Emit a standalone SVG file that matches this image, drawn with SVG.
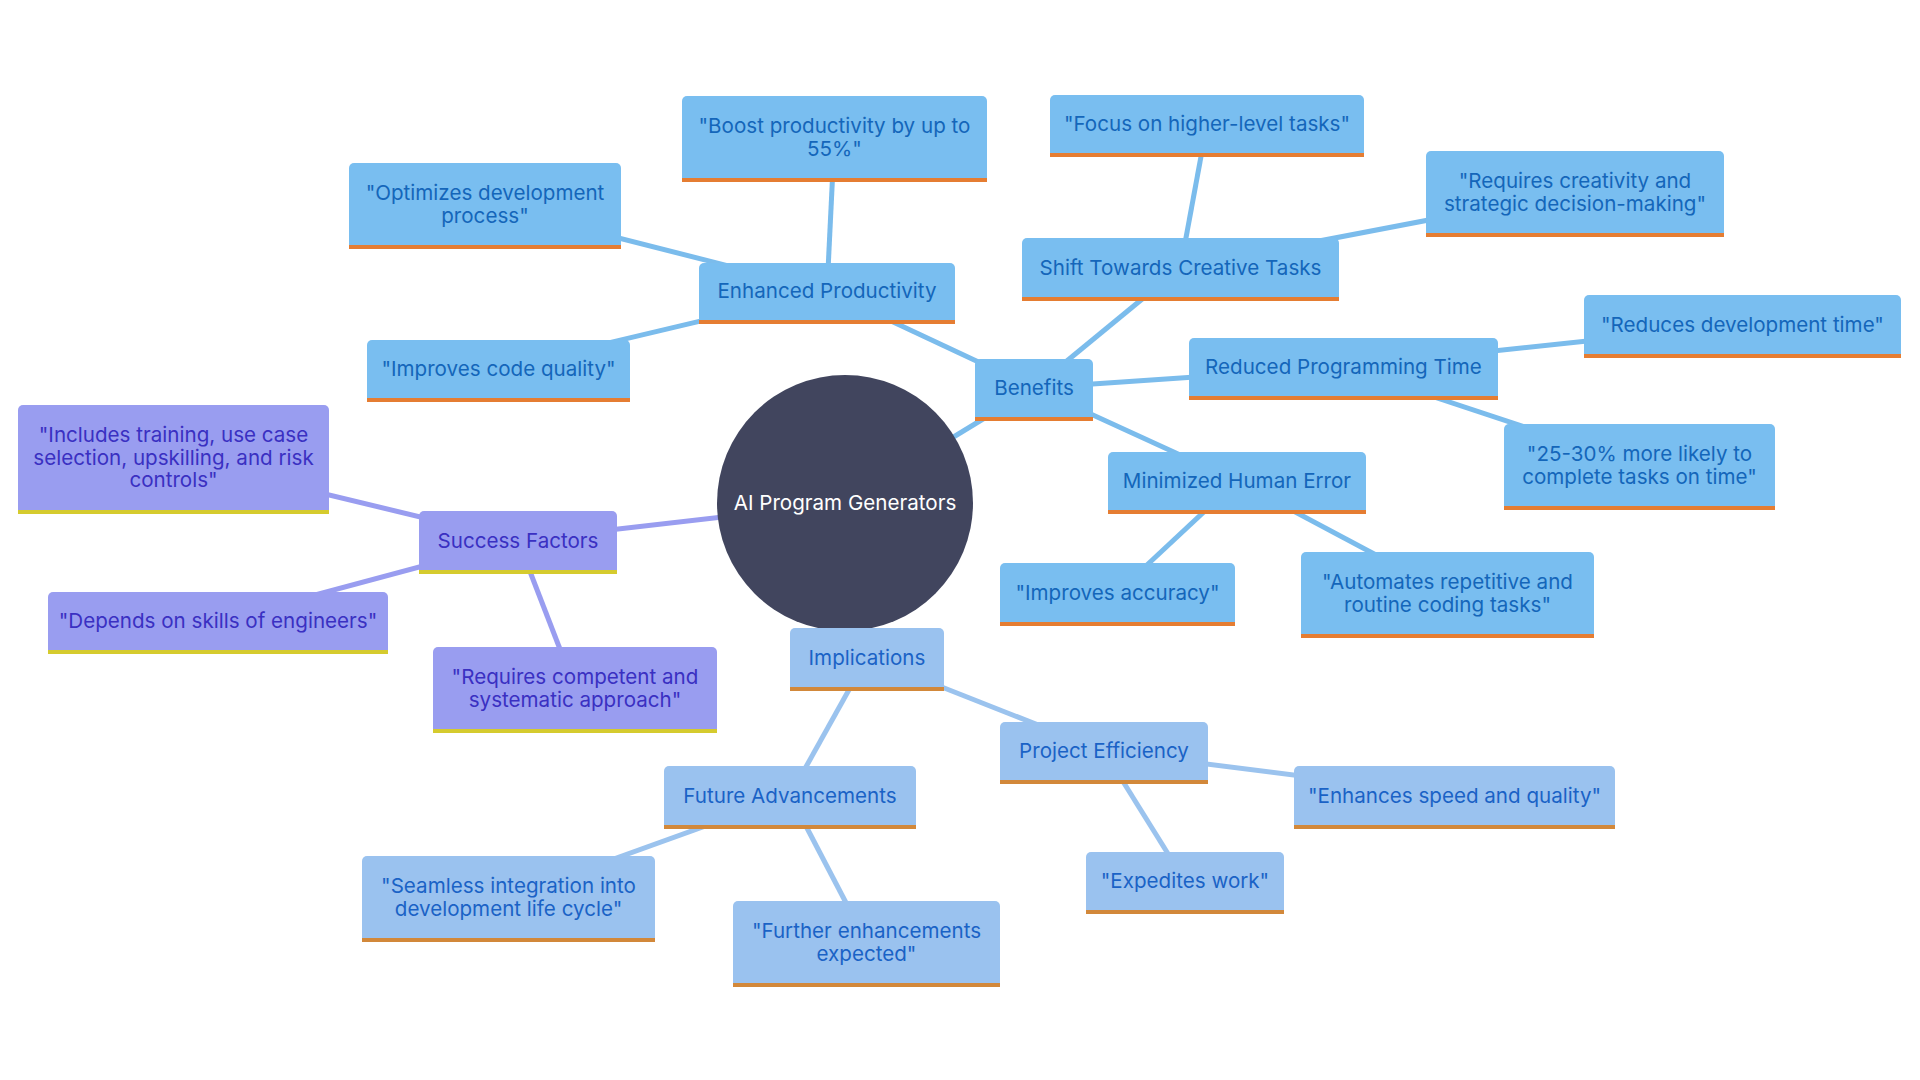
<svg xmlns="http://www.w3.org/2000/svg" width="1920" height="1080" viewBox="0 0 1920 1080">
<style>
text{font-family:Inter,"Noto Sans","Liberation Sans",sans-serif;font-size:20.6px;text-anchor:middle;letter-spacing:0px}
.bf{fill:#79BEF0}.bb{fill:#E57D32}.bt{fill:#1466BA}
.sf{fill:#999DF0}.sb{fill:#D5CB2E}.st{fill:#3A30C2}
.if{fill:#9AC2EF}.ib{fill:#D2883A}.it{fill:#1A62C6}
.cb{stroke:#7BBCEC;stroke-width:5;fill:none}
.cs{stroke:#999DF0;stroke-width:5;fill:none}
.ci{stroke:#9BC3EE;stroke-width:5;fill:none}
</style>
<rect width="1920" height="1080" fill="#FFFFFF"/>
<g id="connectors">
<line class="cb" x1="845" y1="503" x2="1034" y2="388"/>
<line class="cb" x1="1034" y1="388" x2="827" y2="291"/>
<line class="cb" x1="827" y1="291" x2="834.5" y2="137"/>
<line class="cb" x1="827" y1="291" x2="485" y2="204"/>
<line class="cb" x1="827" y1="291" x2="498.5" y2="369"/>
<line class="cb" x1="1034" y1="388" x2="1180.5" y2="267.5"/>
<line class="cb" x1="1180.5" y1="267.5" x2="1207" y2="124"/>
<line class="cb" x1="1180.5" y1="267.5" x2="1575" y2="192"/>
<line class="cb" x1="1034" y1="388" x2="1343.5" y2="367"/>
<line class="cb" x1="1343.5" y1="367" x2="1742.5" y2="324.5"/>
<line class="cb" x1="1343.5" y1="367" x2="1639.5" y2="465"/>
<line class="cb" x1="1034" y1="388" x2="1237" y2="481"/>
<line class="cb" x1="1237" y1="481" x2="1117.5" y2="592.5"/>
<line class="cb" x1="1237" y1="481" x2="1447.5" y2="593"/>
<line class="cs" x1="845" y1="503" x2="518" y2="540.5"/>
<line class="cs" x1="518" y1="540.5" x2="173.5" y2="457.5"/>
<line class="cs" x1="518" y1="540.5" x2="218" y2="621"/>
<line class="cs" x1="518" y1="540.5" x2="575" y2="688"/>
<line class="ci" x1="845" y1="503" x2="867" y2="657.5"/>
<line class="ci" x1="867" y1="657.5" x2="1104" y2="751"/>
<line class="ci" x1="867" y1="657.5" x2="790" y2="795.5"/>
<line class="ci" x1="1104" y1="751" x2="1454.5" y2="795.5"/>
<line class="ci" x1="1104" y1="751" x2="1185" y2="881"/>
<line class="ci" x1="790" y1="795.5" x2="508.5" y2="897"/>
<line class="ci" x1="790" y1="795.5" x2="866.5" y2="942"/>
</g>
<g id="center">
<circle cx="845" cy="503" r="128" fill="#41455E"/>
<text x="845" y="510" fill="#FFFFFF">AI Program Generators</text>
</g>
<g id="n-benefits"><rect class="bf" x="975" y="359" width="118" height="62" rx="5"/><rect class="bf" x="975" y="405" width="118" height="12"/><rect class="bb" x="975" y="417" width="118" height="4"/><text class="bt" x="1034" y="395">Benefits</text></g>
<g id="n-enhanced"><rect class="bf" x="699" y="263" width="256" height="61" rx="5"/><rect class="bf" x="699" y="308" width="256" height="12"/><rect class="bb" x="699" y="320" width="256" height="4"/><text class="bt" x="827" y="298">Enhanced Productivity</text></g>
<g id="n-boost"><rect class="bf" x="682" y="96" width="305" height="86" rx="5"/><rect class="bf" x="682" y="166" width="305" height="12"/><rect class="bb" x="682" y="178" width="305" height="4"/><text class="bt" x="834.5" y="132.5">"Boost productivity by up to</text><text class="bt" x="834.5" y="155.5">55%"</text></g>
<g id="n-optimizes"><rect class="bf" x="349" y="163" width="272" height="86" rx="5"/><rect class="bf" x="349" y="233" width="272" height="12"/><rect class="bb" x="349" y="245" width="272" height="4"/><text class="bt" x="485" y="199.5">"Optimizes development</text><text class="bt" x="485" y="222.5">process"</text></g>
<g id="n-codequality"><rect class="bf" x="367" y="340" width="263" height="62" rx="5"/><rect class="bf" x="367" y="386" width="263" height="12"/><rect class="bb" x="367" y="398" width="263" height="4"/><text class="bt" x="498.5" y="376">"Improves code quality"</text></g>
<g id="n-shift"><rect class="bf" x="1022" y="238" width="317" height="63" rx="5"/><rect class="bf" x="1022" y="285" width="317" height="12"/><rect class="bb" x="1022" y="297" width="317" height="4"/><text class="bt" x="1180.5" y="274.5">Shift Towards Creative Tasks</text></g>
<g id="n-focus"><rect class="bf" x="1050" y="95" width="314" height="62" rx="5"/><rect class="bf" x="1050" y="141" width="314" height="12"/><rect class="bb" x="1050" y="153" width="314" height="4"/><text class="bt" x="1207" y="131">"Focus on higher-level tasks"</text></g>
<g id="n-creativity"><rect class="bf" x="1426" y="151" width="298" height="86" rx="5"/><rect class="bf" x="1426" y="221" width="298" height="12"/><rect class="bb" x="1426" y="233" width="298" height="4"/><text class="bt" x="1575" y="187.5">"Requires creativity and</text><text class="bt" x="1575" y="210.5">strategic decision-making"</text></g>
<g id="n-reduced"><rect class="bf" x="1189" y="338" width="309" height="62" rx="5"/><rect class="bf" x="1189" y="384" width="309" height="12"/><rect class="bb" x="1189" y="396" width="309" height="4"/><text class="bt" x="1343.5" y="374">Reduced Programming Time</text></g>
<g id="n-reducesdev"><rect class="bf" x="1584" y="295" width="317" height="63" rx="5"/><rect class="bf" x="1584" y="342" width="317" height="12"/><rect class="bb" x="1584" y="354" width="317" height="4"/><text class="bt" x="1742.5" y="331.5">"Reduces development time"</text></g>
<g id="n-likely"><rect class="bf" x="1504" y="424" width="271" height="86" rx="5"/><rect class="bf" x="1504" y="494" width="271" height="12"/><rect class="bb" x="1504" y="506" width="271" height="4"/><text class="bt" x="1639.5" y="460.5">"25-30% more likely to</text><text class="bt" x="1639.5" y="483.5">complete tasks on time"</text></g>
<g id="n-minimized"><rect class="bf" x="1108" y="452" width="258" height="62" rx="5"/><rect class="bf" x="1108" y="498" width="258" height="12"/><rect class="bb" x="1108" y="510" width="258" height="4"/><text class="bt" x="1237" y="488">Minimized Human Error</text></g>
<g id="n-accuracy"><rect class="bf" x="1000" y="563" width="235" height="63" rx="5"/><rect class="bf" x="1000" y="610" width="235" height="12"/><rect class="bb" x="1000" y="622" width="235" height="4"/><text class="bt" x="1117.5" y="599.5">"Improves accuracy"</text></g>
<g id="n-automates"><rect class="bf" x="1301" y="552" width="293" height="86" rx="5"/><rect class="bf" x="1301" y="622" width="293" height="12"/><rect class="bb" x="1301" y="634" width="293" height="4"/><text class="bt" x="1447.5" y="588.5">"Automates repetitive and</text><text class="bt" x="1447.5" y="611.5">routine coding tasks"</text></g>
<g id="n-success"><rect class="sf" x="419" y="511" width="198" height="63" rx="5"/><rect class="sf" x="419" y="558" width="198" height="12"/><rect class="sb" x="419" y="570" width="198" height="4"/><text class="st" x="518" y="547.5">Success Factors</text></g>
<g id="n-includes"><rect class="sf" x="18" y="405" width="311" height="109" rx="5"/><rect class="sf" x="18" y="498" width="311" height="12"/><rect class="sb" x="18" y="510" width="311" height="4"/><text class="st" x="173.5" y="442">"Includes training, use case</text><text class="st" x="173.5" y="464.5">selection, upskilling, and risk</text><text class="st" x="173.5" y="487">controls"</text></g>
<g id="n-depends"><rect class="sf" x="48" y="592" width="340" height="62" rx="5"/><rect class="sf" x="48" y="638" width="340" height="12"/><rect class="sb" x="48" y="650" width="340" height="4"/><text class="st" x="218" y="628">"Depends on skills of engineers"</text></g>
<g id="n-competent"><rect class="sf" x="433" y="647" width="284" height="86" rx="5"/><rect class="sf" x="433" y="717" width="284" height="12"/><rect class="sb" x="433" y="729" width="284" height="4"/><text class="st" x="575" y="683.5">"Requires competent and</text><text class="st" x="575" y="706.5">systematic approach"</text></g>
<g id="n-implications"><rect class="if" x="790" y="628" width="154" height="63" rx="5"/><rect class="if" x="790" y="675" width="154" height="12"/><rect class="ib" x="790" y="687" width="154" height="4"/><text class="it" x="867" y="664.5">Implications</text></g>
<g id="n-project"><rect class="if" x="1000" y="722" width="208" height="62" rx="5"/><rect class="if" x="1000" y="768" width="208" height="12"/><rect class="ib" x="1000" y="780" width="208" height="4"/><text class="it" x="1104" y="758">Project Efficiency</text></g>
<g id="n-future"><rect class="if" x="664" y="766" width="252" height="63" rx="5"/><rect class="if" x="664" y="813" width="252" height="12"/><rect class="ib" x="664" y="825" width="252" height="4"/><text class="it" x="790" y="802.5">Future Advancements</text></g>
<g id="n-enhances"><rect class="if" x="1294" y="766" width="321" height="63" rx="5"/><rect class="if" x="1294" y="813" width="321" height="12"/><rect class="ib" x="1294" y="825" width="321" height="4"/><text class="it" x="1454.5" y="802.5">"Enhances speed and quality"</text></g>
<g id="n-expedites"><rect class="if" x="1086" y="852" width="198" height="62" rx="5"/><rect class="if" x="1086" y="898" width="198" height="12"/><rect class="ib" x="1086" y="910" width="198" height="4"/><text class="it" x="1185" y="888">"Expedites work"</text></g>
<g id="n-seamless"><rect class="if" x="362" y="856" width="293" height="86" rx="5"/><rect class="if" x="362" y="926" width="293" height="12"/><rect class="ib" x="362" y="938" width="293" height="4"/><text class="it" x="508.5" y="892.5">"Seamless integration into</text><text class="it" x="508.5" y="915.5">development life cycle"</text></g>
<g id="n-further"><rect class="if" x="733" y="901" width="267" height="86" rx="5"/><rect class="if" x="733" y="971" width="267" height="12"/><rect class="ib" x="733" y="983" width="267" height="4"/><text class="it" x="866.5" y="937.5">"Further enhancements</text><text class="it" x="866.5" y="960.5">expected"</text></g>
</svg>
